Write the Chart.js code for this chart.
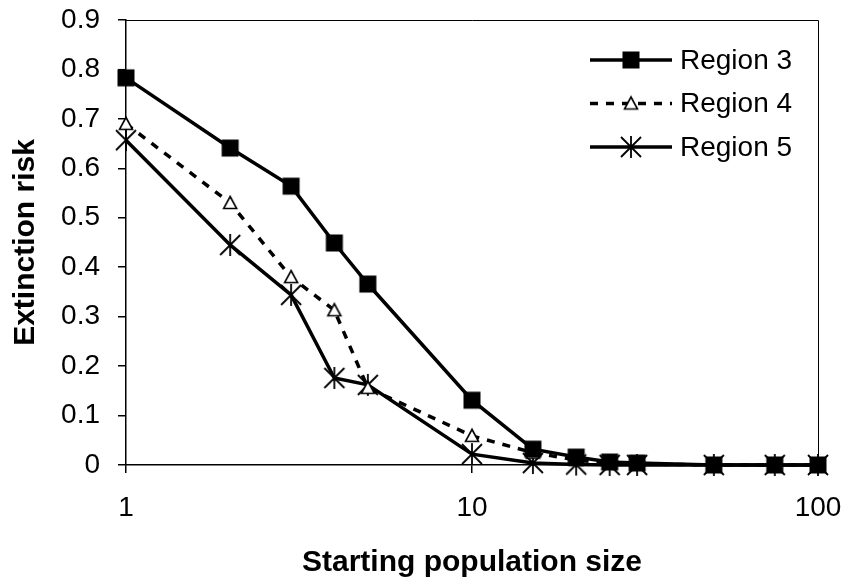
<!DOCTYPE html>
<html>
<head>
<meta charset="utf-8">
<script src="https://cdn.jsdelivr.net/npm/chart.js@4"></script>
<style>
  html, body { margin: 0; padding: 0; background: #fff; }
  #wrap { width: 848px; height: 583px; }
</style>
</head>
<body>
<div id="wrap"><canvas id="chart1"></canvas></div>
<script>
// values
popSizes = [1, 2, 3, 4, 5, 10, 15, 20, 25, 30, 50, 75, 100]
region3 = [0.783, 0.641, 0.564, 0.449, 0.366, 0.131, 0.032, 0.016, 0.006, 0.004, 0, 0, 0]
region4 = [0.69, 0.53, 0.38, 0.313, 0.156, 0.059, 0.025, 0.01, 0.004, 0.002, 0, 0, 0]
region5 = [0.657, 0.445, 0.344, 0.176, 0.162, 0.022, 0.004, 0.001, 0, 0, 0, 0, 0]
seriesNames = ['Region 3', 'Region 4', 'Region 5']
xTicks = [1, 10, 100]

const FONT = "'Liberation Sans', Arial, sans-serif"

// marker pictures
function makeMarker(kind) {
  var c = document.createElement('canvas')
  c.width = 24; c.height = 24
  var g = c.getContext('2d')
  g.translate(12, 12)
  g.strokeStyle = '#000'
  g.fillStyle = '#000'
  if (kind == 'square') {
    g.fillRect(-8.5, -8.5, 17, 17)
  } else if (kind == 'triangle') {
    g.lineWidth = 1.6
    g.beginPath()
    g.moveTo(0, -6.5)
    g.lineTo(6.5, 5.5)
    g.lineTo(-6.5, 5.5)
    g.closePath()
    g.fillStyle = '#fff'
    g.fill()
    g.stroke()
  } else {
    g.lineWidth = 1.8
    g.beginPath()
    g.moveTo(-10, -10); g.lineTo(10, 10)
    g.moveTo(-10, 10); g.lineTo(10, -10)
    g.moveTo(0, -11); g.lineTo(0, 11)
    g.stroke()
  }
  return c
}
var markers = [makeMarker('square'), makeMarker('triangle'), makeMarker('star')]

function pts(vals) {
  return popSizes.map(function (p, i) { return { x: p, y: vals[i] } })
}

// legend drawn inside the plot, line sample + marker
const insideLegend = {
  id: 'insideLegend',
  afterDraw(chart) {
    const ctx = chart.ctx
    const a = chart.chartArea
    const x0 = a.right - 228
    const lineLen = 82
    ctx.save()
    chart.data.datasets.forEach(function (ds, i) {
      const y = a.top + 40 + i * 43.5
      ctx.strokeStyle = '#000'
      ctx.lineWidth = ds.borderWidth
      ctx.setLineDash(ds.borderDash || [])
      ctx.beginPath()
      ctx.moveTo(x0, y)
      ctx.lineTo(x0 + lineLen, y)
      ctx.stroke()
      ctx.setLineDash([])
      const m = ds.pointStyle
      ctx.drawImage(m, x0 + lineLen / 2 - m.width / 2, y - m.height / 2)
      ctx.fillStyle = '#000'
      ctx.font = '28px ' + FONT
      ctx.textAlign = 'left'
      ctx.textBaseline = 'middle'
      ctx.fillText(ds.label, x0 + lineLen + 8, y + 1)
    })
    ctx.restore()
  }
}

// thin frame on top and right of the plot
const plotFrame = {
  id: 'plotFrame',
  beforeDatasetsDraw(chart) {
    const ctx = chart.ctx
    const a = chart.chartArea
    ctx.save()
    ctx.strokeStyle = '#000'
    ctx.lineWidth = 1
    ctx.beginPath()
    ctx.moveTo(a.left, a.top + 0.5)
    ctx.lineTo(a.right + 0.5, a.top + 0.5)
    ctx.lineTo(a.right + 0.5, a.bottom)
    ctx.stroke()
    ctx.restore()
  }
}

const chart1 = document.getElementById('chart1')
new Chart(chart1, {
  type: 'line',
  data: {
    datasets: [{
      label: seriesNames[0],
      data: pts(region3),
      borderColor: '#000',
      borderWidth: 3.5,
      pointStyle: markers[0],
      pointRadius: 9,
      clip: false
    }, {
      label: seriesNames[1],
      data: pts(region4),
      borderColor: '#000',
      borderWidth: 3.5,
      borderDash: [8, 8],
      pointStyle: markers[1],
      pointRadius: 7,
      clip: false
    }, {
      label: seriesNames[2],
      data: pts(region5),
      borderColor: '#000',
      borderWidth: 3.5,
      pointStyle: markers[2],
      pointRadius: 9,
      clip: false
    }]
  },
  options: {
    responsive: true,
    maintainAspectRatio: false,
    animation: false,
    layout: { padding: { left: 0, top: 20, right: 30, bottom: 0 } },
    plugins: {
      legend: { display: false },
      tooltip: { enabled: false }
    },
    elements: { line: { tension: 0, fill: false } },
    scales: {
      x: {
        type: 'logarithmic',
        min: 1,
        max: 100,
        afterBuildTicks: function (s) { s.ticks = xTicks.map(function (v) { return { value: v } }) },
        afterFit: function (s) { s.height = 118; s.paddingLeft = 0; s.paddingRight = 0 },
        ticks: {
          color: '#000',
          font: { family: FONT, size: 28 },
          padding: 18,
          maxRotation: 0,
          callback: function (v) { return String(v) }
        },
        grid: { drawOnChartArea: false, drawTicks: true, tickLength: 8, color: '#000', lineWidth: 1.5 },
        border: { color: '#000', width: 1.5 },
        title: {
          display: true,
          text: 'Starting population size',
          color: '#000',
          font: { family: FONT, size: 30, weight: 'bold' },
          padding: { top: 0, bottom: 2 }
        }
      },
      y: {
        min: 0,
        max: 0.9,
        afterFit: function (s) { s.width = 126; s.paddingTop = 0; s.paddingBottom = 0 },
        ticks: {
          stepSize: 0.1,
          color: '#000',
          font: { family: FONT, size: 28 },
          padding: 18,
          callback: function (v) { return v == 0 ? '0' : v.toFixed(1) }
        },
        grid: { drawOnChartArea: false, drawTicks: true, tickLength: 8, color: '#000', lineWidth: 1.5 },
        border: { color: '#000', width: 1.5 },
        title: {
          display: true,
          text: 'Extinction risk',
          color: '#000',
          font: { family: FONT, size: 30, weight: 'bold' },
          padding: { top: 8, bottom: 0 }
        }
      }
    }
  },
  plugins: [plotFrame, insideLegend]
})
</script>
</body>
</html>
